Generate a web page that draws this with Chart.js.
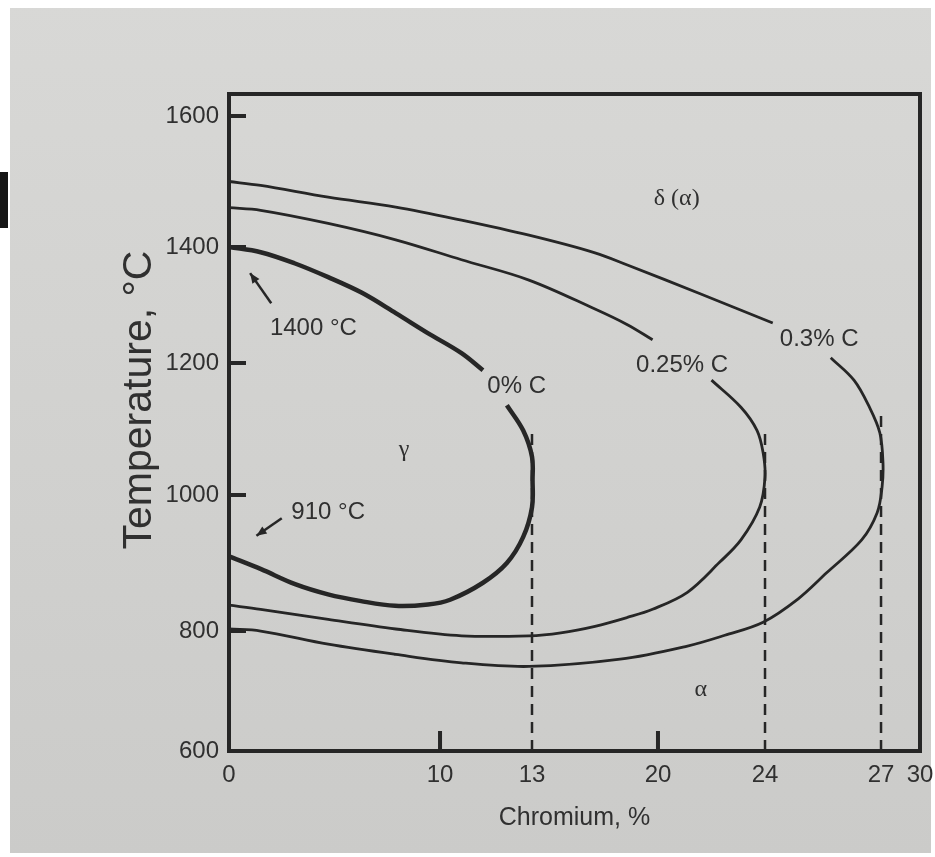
<!DOCTYPE html>
<html>
<head>
<meta charset="utf-8">
<title>Fe-Cr gamma loop</title>
<script src="https://cdn.jsdelivr.net/npm/chart.js@4.4.1/dist/chart.umd.min.js"></script>
<style>
  html, body { margin: 0; padding: 0; background: #fff; }
  canvas { display: block; }
</style>
</head>
<body>
<canvas id="chart" width="935" height="857"></canvas>
<script>
const xTicks = [0, 10, 13, 20, 24, 27, 30];
const yTicks = [600, 800, 1000, 1200, 1400, 1600];

// chromium (%) / temperature (°C) along each boundary, null leaves room for the curve label
const cr0 = [0, 1.5, 3.1, 4.7, 6.3, 7.9, 9.4, 10.7, 11.4, null, 12.18, 12.71, 13.0, 13.03, 13.0, 12.71, 12.18, 11.4, 10.33, 9.43, 7.87, 6.26, 4.69, 3.13, 1.52, 0];
const t0 = [1400, 1391, 1372, 1348, 1321, 1286, 1252, 1217, 1189, null, 1136, 1098, 1058, 1023, 982, 938, 900, 871, 846, 839, 837, 844, 854, 869, 891, 910];

const cr25 = [0, 1.5, 4.7, 7.9, 10.7, 12.9, 16.5, 18.3, 19.7, null, 22.0, 23.1, 23.7, 23.93, 24.0, 23.8, 23.1, 22.3, 21.1, 19.7, 18.3, 16.5, 14.6, 12.9, 10.7, 7.9, 4.7, 1.5, 0];
const t25 = [1460, 1456, 1436, 1411, 1378, 1343, 1293, 1266, 1240, null, 1174, 1133, 1098, 1064, 1027, 982, 934, 901, 857, 832, 820, 807, 797, 792, 792, 803, 817, 832, 838];

const cr30 = [0, 1.5, 4.7, 7.9, 10.7, 12.9, 16.5, 18.3, 21.6, 24.2, null, 25.7, 26.3, 26.7, 26.97, 27.15, 27.08, 26.9, 26.5, 25.6, 24.85, 23.93, 22.5, 21.1, 17.9, 12.9, 10.7, 7.9, 4.7, 1.5, 0];
const t30 = [1500, 1494, 1476, 1461, 1441, 1418, 1390, 1369, 1319, 1269, null, 1209, 1174, 1133, 1094, 1049, 1012, 974, 934, 886, 847, 813, 793, 775, 753, 741, 747, 761, 778, 800, 803];

// dashed limits of the loops
const guideCr = [13, 24, 27];
const guideTop = [1100, 1100, 1125];

const curveLabels = ['0% C', '0.25% C', '0.3% C'];
const curveLabelCr = [12.5, 20.9, 25.4];
const curveLabelT = [1164, 1197, 1240];

const phaseLabels = ['δ (α)', 'γ', 'α'];
const phaseCr = [20.7, 8.3, 21.6];
const phaseT = [1473, 1068, 702];

const noteLabels = ['1400 °C', '910 °C'];
const noteCr = [4.0, 4.7];
const noteT = [1260, 975];
const arrowFrom = [[2.0, 1303], [2.5, 966]];
const arrowTo = [[1.0, 1355], [1.3, 940]];

const ink = '#262626';
const textInk = '#303030';
const sans = '"Liberation Sans", Arial, sans-serif';
const serif = '"Liberation Serif", "DejaVu Serif", serif';

// the printed figure is not drawn to scale: each labelled value has its own spot on the axis
class StretchedScale extends Chart.LinearScale {
  valueToDecimal(v) {
    const stops = this.options.stops;
    let i = 1;
    while (i < stops.length - 1 && v > stops[i][0]) i++;
    const [v0, d0] = stops[i - 1];
    const [v1, d1] = stops[i];
    return d0 + (v - v0) * (d1 - d0) / (v1 - v0);
  }
  decimalToValue(d) {
    const stops = this.options.stops;
    let i = 1;
    while (i < stops.length - 1 && d > stops[i][1]) i++;
    const [v0, d0] = stops[i - 1];
    const [v1, d1] = stops[i];
    return v0 + (d - d0) * (v1 - v0) / (d1 - d0);
  }
  getPixelForValue(value) {
    if (value === null || value === undefined || isNaN(value)) return NaN;
    return this.getPixelForDecimal(this.valueToDecimal(value));
  }
  getValueForPixel(pixel) {
    return this.decimalToValue(this.getDecimalForPixel(pixel));
  }
}
StretchedScale.id = 'stretched';
StretchedScale.defaults = Chart.LinearScale.defaults;
Chart.register(StretchedScale);

const toPoints = (cr, t) => cr.map((c, i) => ({ x: c, y: t[i] }));

const curve = (label, cr, t, width) => ({
  label: label,
  data: toPoints(cr, t),
  showLine: true,
  borderColor: ink,
  borderWidth: width,
  pointRadius: 0,
  tension: 0.35,
  spanGaps: false,
});

const guides = guideCr.map((c, i) => ({
  label: 'limit ' + c,
  data: [{ x: c, y: 600 }, { x: c, y: guideTop[i] }],
  showLine: true,
  borderColor: ink,
  borderWidth: 2.5,
  borderDash: [11, 7],
  pointRadius: 0,
}));

const noPadding = (scale) => {
  scale.paddingLeft = 0;
  scale.paddingRight = 0;
  scale.paddingTop = 0;
  scale.paddingBottom = 0;
};

const paperPlugin = {
  id: 'paper',
  beforeDraw(chart) {
    const { ctx, width, height } = chart;
    ctx.save();
    ctx.fillStyle = '#ffffff';
    ctx.fillRect(0, 0, width, height);
    const g = ctx.createLinearGradient(0, 0, 0, height);
    g.addColorStop(0, '#d8d8d6');
    g.addColorStop(1, '#cbcbc9');
    ctx.fillStyle = g;
    ctx.fillRect(10, 8, 921, 845);
    ctx.fillStyle = '#151515';
    ctx.fillRect(0, 172, 8, 56);
    ctx.restore();
  },
  afterDatasetsDraw(chart) {
    const { ctx, chartArea: a, scales: { x, y } } = chart;
    ctx.save();

    // box and inward tick marks
    ctx.strokeStyle = ink;
    ctx.lineWidth = 4;
    ctx.strokeRect(a.left, a.top, a.right - a.left, a.bottom - a.top);
    ctx.beginPath();
    yTicks.filter(v => v > 600).forEach(v => {
      const py = y.getPixelForValue(v);
      ctx.moveTo(a.left, py);
      ctx.lineTo(a.left + 17, py);
    });
    xTicks.filter(v => v > 0 && v < 30 && !guideCr.includes(v)).forEach(v => {
      const px = x.getPixelForValue(v);
      ctx.moveTo(px, a.bottom);
      ctx.lineTo(px, a.bottom - 20);
    });
    ctx.stroke();

    ctx.fillStyle = textInk;
    ctx.textAlign = 'center';
    ctx.textBaseline = 'middle';

    ctx.font = '24px ' + sans;
    curveLabels.forEach((txt, i) => {
      ctx.fillText(txt, x.getPixelForValue(curveLabelCr[i]), y.getPixelForValue(curveLabelT[i]));
    });
    noteLabels.forEach((txt, i) => {
      ctx.fillText(txt, x.getPixelForValue(noteCr[i]), y.getPixelForValue(noteT[i]));
    });

    ctx.font = '24px ' + serif;
    phaseLabels.forEach((txt, i) => {
      ctx.fillText(txt, x.getPixelForValue(phaseCr[i]), y.getPixelForValue(phaseT[i]));
    });

    // y title, set higher than the axis centre as in the print
    ctx.save();
    ctx.translate(140, 400);
    ctx.rotate(-Math.PI / 2);
    ctx.font = '41px ' + sans;
    ctx.fillText('Temperature, °C', 0, 0);
    ctx.restore();

    // arrows to 1400 and 910 °C
    ctx.lineWidth = 2.5;
    arrowFrom.forEach((from, i) => {
      const x1 = x.getPixelForValue(from[0]), y1 = y.getPixelForValue(from[1]);
      const x2 = x.getPixelForValue(arrowTo[i][0]), y2 = y.getPixelForValue(arrowTo[i][1]);
      const ang = Math.atan2(y2 - y1, x2 - x1);
      ctx.beginPath();
      ctx.moveTo(x1, y1);
      ctx.lineTo(x2, y2);
      ctx.stroke();
      ctx.beginPath();
      ctx.moveTo(x2, y2);
      ctx.lineTo(x2 - 11 * Math.cos(ang - 0.4), y2 - 11 * Math.sin(ang - 0.4));
      ctx.lineTo(x2 - 11 * Math.cos(ang + 0.4), y2 - 11 * Math.sin(ang + 0.4));
      ctx.closePath();
      ctx.fillStyle = ink;
      ctx.fill();
    });

    ctx.restore();
  },
};

new Chart(document.getElementById('chart'), {
  type: 'scatter',
  data: {
    datasets: [
      curve('0% C', cr0, t0, 4.5),
      curve('0.25% C', cr25, t25, 2.8),
      curve('0.3% C', cr30, t30, 2.8),
      ...guides,
    ],
  },
  options: {
    responsive: false,
    animation: false,
    events: [],
    layout: { padding: { top: 94, right: 15, left: 0, bottom: 0 } },
    plugins: {
      legend: { display: false },
      tooltip: { enabled: false },
    },
    scales: {
      x: {
        type: 'stretched',
        min: 0,
        max: 30,
        stops: [[0, 0], [10, 0.3054], [13, 0.4385], [20, 0.6208], [24, 0.7757], [27, 0.9436], [30, 1]],
        afterBuildTicks: (scale) => { scale.ticks = xTicks.map(v => ({ value: v })); },
        afterFit: (scale) => { scale.height = 106; noPadding(scale); },
        grid: { display: false, drawTicks: false },
        border: { display: false },
        ticks: {
          autoSkip: false,
          maxRotation: 0,
          padding: 10,
          color: textInk,
          font: { family: sans, size: 24 },
          callback: (v) => String(v),
        },
        title: {
          display: true,
          text: 'Chromium, %',
          color: textInk,
          font: { family: sans, size: 25 },
          padding: { top: 0, bottom: 24 },
        },
      },
      y: {
        type: 'stretched',
        min: 600,
        max: 1632,
        stops: [[600, 0], [800, 0.1826], [1000, 0.3896], [1200, 0.5906], [1400, 0.7671], [1600, 0.9665], [1632, 1]],
        afterBuildTicks: (scale) => { scale.ticks = yTicks.map(v => ({ value: v })); },
        afterFit: (scale) => { scale.width = 229; noPadding(scale); },
        grid: { display: false, drawTicks: false },
        border: { display: false },
        ticks: {
          padding: 10,
          color: textInk,
          font: { family: sans, size: 24 },
          callback: (v) => String(v),
        },
      },
    },
  },
  plugins: [paperPlugin],
});
</script>
</body>
</html>
